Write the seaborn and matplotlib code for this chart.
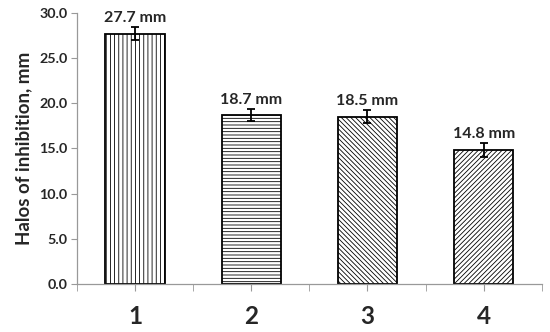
import matplotlib
matplotlib.use("Agg")
import matplotlib.pyplot as plt
import seaborn as sns
import pandas as pd

# values
groups = ["1", "2", "3", "4"]
halos = [27.7, 18.7, 18.5, 14.8]
errors = [0.75, 0.7, 0.7, 0.75]
labels = ["27.7 mm", "18.7 mm", "18.5 mm", "14.8 mm"]
hatches = ["||||", "-----", "\\\\\\\\\\\\\\", "///////"]

df = pd.DataFrame({"group": groups, "halo": halos})

sns.set_style("white")
plt.rcParams["font.family"] = ["Lato", "DejaVu Sans"]
plt.rcParams["hatch.linewidth"] = 0.6
plt.rcParams["hatch.color"] = "#444444"

fig = plt.figure(figsize=(5.5, 3.32), dpi=100)
ax = fig.add_axes([0.14, 0.145, 0.845, 0.816])

sns.barplot(data=df, x="group", y="halo", color="white", width=0.51,
            edgecolor="black", linewidth=1.3, ax=ax)
for patch, h in zip(ax.patches, hatches):
    patch.set_hatch(h)

ax.errorbar(range(len(groups)), halos, yerr=errors, fmt="none",
            ecolor="black", elinewidth=1.3, capsize=3, capthick=1.3)

for i, (v, e, t) in enumerate(zip(halos, errors, labels)):
    ax.annotate(t, (i, v + e), xytext=(0, 1.5), textcoords="offset points",
                ha="center", va="bottom", fontsize=11.5, fontweight="bold")

ax.set_ylim(0, 30)
ax.set_xlim(-0.5, 3.5)
ax.set_yticks([0, 5, 10, 15, 20, 25, 30])
ax.set_yticklabels(["0.0", "5.0", "10.0", "15.0", "20.0", "25.0", "30.0"],
                   fontsize=10.3, fontweight="bold")
ax.set_xticks([-0.5, 0.5, 1.5, 2.5, 3.5], minor=True)
ax.set_xticklabels(groups, fontsize=17.5, fontweight="bold")
ax.tick_params(axis="x", which="both", direction="out", length=5,
               color="#999999", bottom=True, pad=10)
ax.tick_params(axis="y", direction="out", length=4, color="#999999",
               left=True, pad=3)

ax.set_xlabel("")
ax.set_ylabel("Halos of inhibition, mm", fontsize=13.5, fontweight="bold",
              labelpad=5)

sns.despine(ax=ax)
for side in ["left", "bottom"]:
    ax.spines[side].set_color("#999999")
    ax.spines[side].set_linewidth(0.9)

fig.savefig("out.png", dpi=100)
